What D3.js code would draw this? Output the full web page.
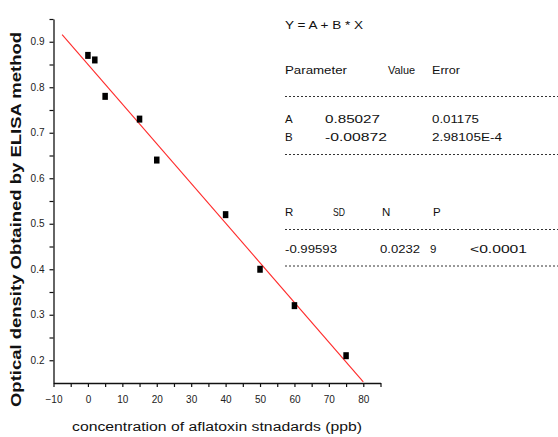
<!DOCTYPE html>
<html><head><meta charset="utf-8">
<script src="https://cdn.jsdelivr.net/npm/d3@7"></script>
<style>
html,body{margin:0;padding:0;background:#fff;}
svg{display:block;font-family:"Liberation Sans",Arial,sans-serif;}
</style></head>
<body>
<svg id="c" width="558" height="437"></svg>
<script>
// data
const concentrations = [0, 2, 5, 15, 20, 40, 50, 60, 75];
const opticalDensity = [0.87, 0.86, 0.78, 0.73, 0.64, 0.52, 0.40, 0.32, 0.21];
const fitA = 0.85027;
const fitB = -0.00872;
const fitRange = [-7.5, 80];
const xMajorTicks = [-10, 0, 10, 20, 30, 40, 50, 60, 70, 80];
const xMinorTicks = [-5, 5, 15, 25, 35, 45, 55, 65, 75, 85];
const yMajorTicks = [0.2, 0.3, 0.4, 0.5, 0.6, 0.7, 0.8, 0.9];
const yMinorTicks = [0.25, 0.35, 0.45, 0.55, 0.65, 0.75, 0.85, 0.95];
const xLabel = "concentration of aflatoxin stnadards (ppb)";
const yLabel = "Optical density Obtained by ELISA method";
const statsRows = [
  {y: 29, cells: [["Y = A + B * X", 285, 78]]},
  {y: 74, cells: [["Parameter", 285, 62], ["Value", 388, 27], ["Error", 432, 28]]},
  {y: 122.5, cells: [["A", 285, 0], ["0.85027", 325, 55], ["0.01175", 432, 47]]},
  {y: 141, cells: [["B", 285, 0], ["-0.00872", 325, 62], ["2.98105E-4", 432, 70]]},
  {y: 216, cells: [["R", 285, 0], ["SD", 333, 12], ["N", 382, 0], ["P", 433, 0]]},
  {y: 252.5, cells: [["-0.99593", 285, 52], ["0.0232", 380, 40], ["9", 430, 0], ["<0.0001", 470, 57]]}
];
const dottedRules = [96.5, 154.5, 229.5, 266];

const svg = d3.select("#c");
const x = d3.scaleLinear().domain([-10, 85]).range([53.5, 380.5]);
const y = d3.scaleLinear().domain([0.15, 0.95]).range([383, 19]);

// axes
const gx = svg.append("g").attr("transform", `translate(0,${y(0.15)})`);
gx.call(d3.axisBottom(x).tickValues(xMajorTicks).tickSize(4).tickPadding(9).tickSizeOuter(0).tickFormat(d3.format("d")));
const gxm = svg.append("g").attr("transform", `translate(0,${y(0.15)})`);
gxm.call(d3.axisBottom(x).tickValues(xMinorTicks).tickSize(4).tickSizeOuter(0).tickFormat(""));
const gy = svg.append("g").attr("transform", `translate(${x(-10)},0)`);
gy.call(d3.axisLeft(y).tickValues(yMajorTicks).tickSize(4).tickPadding(5).tickSizeOuter(0).tickFormat(d3.format(".1f")));
const gym = svg.append("g").attr("transform", `translate(${x(-10)},0)`);
gym.call(d3.axisLeft(y).tickValues(yMinorTicks).tickSize(4).tickSizeOuter(0).tickFormat(""));
gxm.select(".domain").remove(); gym.select(".domain").remove();
svg.selectAll(".domain").attr("stroke", "#111").attr("stroke-width", 1.3);
svg.selectAll(".tick line").attr("stroke", "#111").attr("stroke-width", 1.2);
svg.selectAll(".tick text").attr("font-family", "Liberation Sans, Arial, sans-serif").attr("font-size", 10).attr("fill", "#222");

// fit line
svg.append("line")
  .attr("x1", x(fitRange[0])).attr("y1", y(fitA + fitB * fitRange[0]))
  .attr("x2", x(fitRange[1])).attr("y2", y(fitA + fitB * fitRange[1]))
  .attr("stroke", "#ff2a2a").attr("stroke-width", 1.1);

// points
svg.selectAll("rect.pt").data(concentrations).enter().append("rect").attr("class", "pt")
  .attr("x", (d) => x(d) - 2.75).attr("y", (d, i) => y(opticalDensity[i]) - 3.5)
  .attr("width", 5.5).attr("height", 7).attr("fill", "#000");

// axis labels
svg.append("text").attr("x", 217).attr("y", 431).attr("text-anchor", "middle")
  .attr("font-size", 12.5).attr("fill", "#111").attr("textLength", 290).attr("lengthAdjust", "spacingAndGlyphs").text(xLabel);
svg.append("text").attr("transform", "translate(20.5,219.5) rotate(-90)").attr("text-anchor", "middle")
  .attr("font-size", 14.5).attr("font-weight", "bold").attr("fill", "#111")
  .attr("textLength", 375).attr("lengthAdjust", "spacingAndGlyphs").text(yLabel);

// stats panel
statsRows.forEach(r => {
  r.cells.forEach(([t, cx, w]) => {
    const el = svg.append("text").attr("x", cx).attr("y", r.y).attr("font-size", 11.5).attr("fill", "#111").text(t);
    if (w > 0) el.attr("textLength", w).attr("lengthAdjust", "spacingAndGlyphs");
  });
});
dottedRules.forEach(yy => {
  svg.append("line").attr("x1", 285).attr("x2", 558).attr("y1", yy).attr("y2", yy)
    .attr("stroke", "#333").attr("stroke-width", 1).attr("stroke-dasharray", "2,2");
});
</script>
</body></html>
